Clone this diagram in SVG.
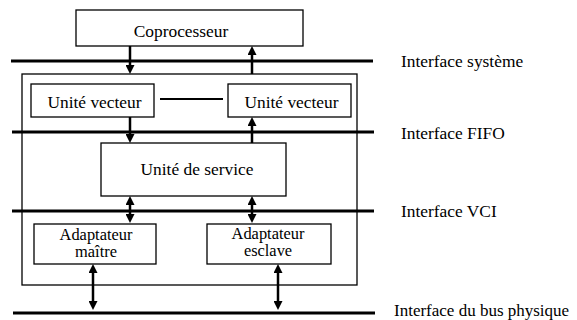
<svg xmlns="http://www.w3.org/2000/svg" width="577" height="320" viewBox="0 0 577 320">
<style>
.box{fill:#fff;stroke:#000;stroke-width:1.3}
.bus{stroke:#000;stroke-width:3;fill:none}
.arr{stroke:#000;stroke-width:2.5;fill:none}
.link{stroke:#000;stroke-width:2;fill:none}
.t{font-family:'Liberation Serif','Times New Roman',Tinos,serif;font-size:17.4px;fill:#000}
.s{font-size:16.4px}
.c{text-anchor:middle}
</style>
<defs>
<marker id="ah" viewBox="0 0 10 10" markerWidth="9" markerHeight="9" refX="4" refY="5" markerUnits="userSpaceOnUse" orient="auto-start-reverse">
<path d="M0,0 L10,5 L0,10 z" fill="#000"/>
</marker>
</defs>
<rect width="577" height="320" fill="#fff"/>
<g id="interfaces">
<line class="bus" x1="11" y1="61" x2="373" y2="61"/>
<line class="bus" x1="12" y1="132" x2="374" y2="132"/>
<line class="bus" x1="12" y1="211" x2="374" y2="211"/>
<line class="bus" x1="13" y1="313" x2="375" y2="313"/>
<text class="t" x="401" y="67">Interface système</text>
<text class="t" x="401" y="139">Interface FIFO</text>
<text class="t" x="401" y="217">Interface VCI</text>
<text class="t" x="394" y="316" style="font-size:17px">Interface du bus physique</text>
</g>
<g id="outer"><rect x="22" y="74" width="335" height="211" fill="none" stroke="#000" stroke-width="1.3"/></g>
<g id="coprocesseur"><rect class="box" x="76" y="10" width="227" height="36"/><text class="t c" x="181" y="37">Coprocesseur</text></g>
<g id="vecteur1"><rect class="box" x="31" y="84" width="123" height="33"/><text class="t c" x="94.5" y="108">Unité vecteur</text></g>
<g id="vecteur2"><rect class="box" x="228" y="84" width="123" height="33"/><text class="t c" x="291.5" y="108">Unité vecteur</text></g>
<g id="service"><rect class="box" x="101" y="143" width="185" height="53"/><text class="t c" x="197" y="175">Unité de service</text></g>
<g id="maitre"><rect class="box" x="34" y="224" width="122" height="40"/><text class="t s c" x="96" y="239.5">Adaptateur</text><text class="t s c" x="96" y="257">maître</text></g>
<g id="esclave"><rect class="box" x="207" y="224" width="124" height="40"/><text class="t s c" x="268" y="238.5">Adaptateur</text><text class="t s c" x="268" y="256">esclave</text></g>
<g id="connectors">
<line class="link" x1="160" y1="99" x2="223" y2="99"/>
<line class="arr" x1="130" y1="46" x2="130" y2="68.6" marker-end="url(#ah)"/>
<line class="arr" x1="252" y1="74" x2="252" y2="51.4" marker-end="url(#ah)"/>
<line class="arr" x1="130" y1="117" x2="130" y2="137.6" marker-end="url(#ah)"/>
<line class="arr" x1="252" y1="143" x2="252" y2="122.4" marker-end="url(#ah)"/>
<line class="arr" x1="130" y1="201.4" x2="130" y2="217.6" marker-start="url(#ah)" marker-end="url(#ah)"/>
<line class="arr" x1="252" y1="201.4" x2="252" y2="217.6" marker-start="url(#ah)" marker-end="url(#ah)"/>
<line class="arr" x1="93" y1="269.4" x2="93" y2="304.6" marker-start="url(#ah)" marker-end="url(#ah)"/>
<line class="arr" x1="278" y1="269.4" x2="278" y2="304.6" marker-start="url(#ah)" marker-end="url(#ah)"/>
</g>
</svg>
